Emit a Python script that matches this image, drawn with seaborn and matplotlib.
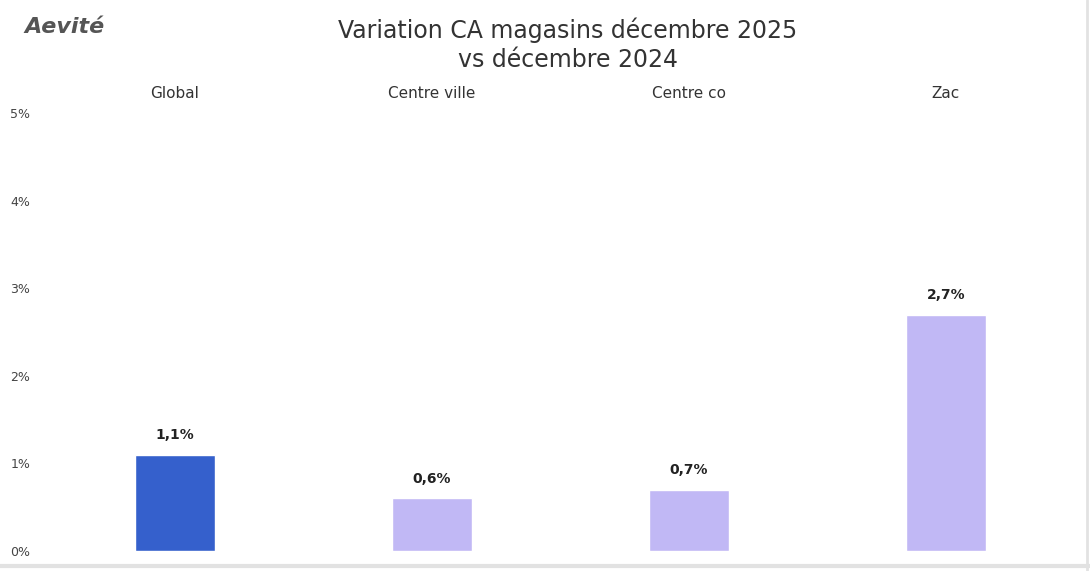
import matplotlib
matplotlib.use("Agg")
import matplotlib.pyplot as plt
import seaborn as sns
import pandas as pd
from matplotlib.lines import Line2D

categories = ["Global", "Centre ville", "Centre co", "Zac"]
variation = [1.1, 0.6, 0.7, 2.7]
y_ticks = [0, 1, 2, 3, 4, 5]

df = pd.DataFrame({"zone": categories, "variation": variation})
palette = {"Global": "#3560cc", "Centre ville": "#c1b8f5",
           "Centre co": "#c1b8f5", "Zac": "#c1b8f5"}

sns.set_theme(style="white")
plt.rcParams["font.family"] = ["DejaVu Sans"]

fig = plt.figure(figsize=(10.9, 5.71), dpi=100)
ax = fig.add_axes([0.0427, 0.035, 0.943, 0.767])

sns.barplot(data=df, x="zone", y="variation", hue="zone", palette=palette,
            order=categories, width=0.31, saturation=1, legend=False, ax=ax)

# value labels, French decimal comma
for i, v in enumerate(variation):
    ax.annotate(f"{v:.1f}%".replace(".", ","), (i, v), xytext=(0, 9),
                textcoords="offset points", ha="center", va="bottom",
                fontsize=10, fontweight="bold", color="#222222")

ax.set_ylim(0, 5)
ax.set_xlim(-0.5, 3.5)
ax.set_yticks(y_ticks)
ax.set_yticklabels([f"{t}%" for t in y_ticks], ha="left")
ax.tick_params(axis="y", length=0, pad=26, labelsize=9, labelcolor="#444444")
ax.xaxis.tick_top()
ax.tick_params(axis="x", length=0, pad=9, labelsize=11, labelcolor="#333333")
ax.set_xlabel("")
ax.set_ylabel("")
for s in ax.spines.values():
    s.set_visible(False)

fig.text(0.521, 0.921, "Variation CA magasins décembre 2025\nvs décembre 2024",
         ha="center", va="center", fontsize=17, color="#333333", linespacing=1.25)
fig.text(0.022, 0.952, "Aevité", ha="left", va="center", fontsize=16,
         fontstyle="italic", fontweight="bold", color="#555555")

# light frame at bottom and right edge
fig.add_artist(Line2D([0, 1], [0.008, 0.008], transform=fig.transFigure,
                      color="#e2e2e2", linewidth=3))
fig.add_artist(Line2D([0.997, 0.997], [0, 1], transform=fig.transFigure,
                      color="#e2e2e2", linewidth=2))

fig.savefig("out.png", dpi=100)
